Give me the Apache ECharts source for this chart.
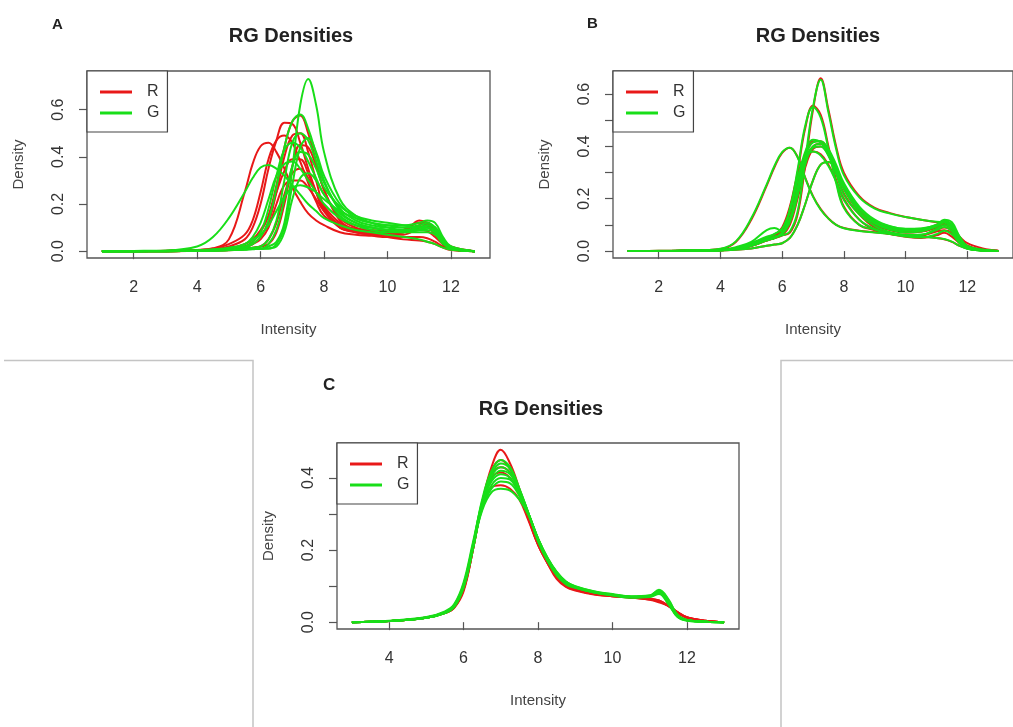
<!DOCTYPE html>
<html>
<head>
<meta charset="utf-8">
<script src="https://cdn.jsdelivr.net/npm/echarts@6.0.0/dist/echarts.min.js"></script>
<style>
html,body{margin:0;padding:0;background:#fff;}
#main{width:1013px;height:727px;}
</style>
</head>
<body>
<div id="main"></div>
<script>
'use strict';

// intensity grids (x) for each panel
var intensityA = [1,2,3,4,4.5, 5,5.5,5.75,6,6.25, 6.5,6.75,7,7.25,7.5, 7.75,8,8.5,9,9.5, 10,10.5,11,11.25,11.5, 11.75,12,12.75];
var intensityB = [1,2,3,4,4.5, 5,5.5,5.75,6,6.25, 6.5,6.75,7,7.25,7.5, 7.75,8,8.5,9,9.5, 10,10.5,11,11.25,11.5, 11.75,12,12.5,13];
var intensityC = [3,4,5,5.5,5.75, 6,6.25,6.5,6.75,7, 7.25,7.5,7.75,8,8.25, 8.5,8.75,9,9.5,10, 10.5,11,11.25,11.5,11.75, 12,12.5,13];

// panel A - raw densities
var densA_R = [
	[0,0,.002,.005,.012, .05,.25,.37,.445,.46, .42,.35,.27,.21,.16, .13,.11,.08,.07,.065, .06,.06,.06,.055,.04, .02,.008,0],
	[0,0,.001,.004,.008, .02,.05,.1,.2,.35, .47,.545,.54,.46,.35, .25,.17,.11,.09,.08, .075,.08,.09,.085,.06, .03,.01,0],
	[0,0,.001,.004,.01, .03,.07,.13,.25,.39, .47,.49,.46,.38,.29, .21,.15,.11,.095,.09, .085,.09,.12,.11,.07, .03,.01,0],
	[0,0,0,.002,.005, .01,.02,.04,.08,.15, .28,.44,.55,.575,.5, .38,.26,.14,.1,.085, .08,.08,.1,.1,.07, .03,.01,0],
	[0,0,0,.002,.004, .006,.015,.03,.06,.12, .25,.4,.49,.5,.42, .3,.19,.1,.085,.08, .075,.08,.13,.12,.08, .03,.008,0],
	[0,0,.001,.003,.006, .012,.03,.05,.09,.15, .25,.34,.39,.39,.33, .25,.18,.11,.08,.07, .06,.05,.045,.04,.03, .015,.005,0],
	[0,0,0,.001,.003, .005,.01,.015,.02,.05, .12,.24,.33,.35,.31, .25,.19,.12,.09,.08, .075,.08,.11,.12,.09, .04,.012,0],
	[0,0,0,.002,.004, .008,.02,.03,.05,.1, .2,.28,.3,.3,.27, .22,.17,.1,.08,.07, .07,.09,.12,.12,.08, .03,.01,0],
	[0,0,0,.001,.002, .004,.008,.012,.02,.03, .08,.2,.36,.45,.44, .36,.26,.13,.09,.075, .07,.07,.1,.11,.1, .05,.02,0]
];
var densA_G = [
	[0,0,.001,.002,.004, .005,.008,.01,.01,.02, .04,.12,.35,.62,.73, .62,.42,.22,.15,.12, .1,.09,.09,.09,.08, .04,.015,0],
	[0,.001,.003,.02,.06, .14,.25,.31,.355,.365, .35,.32,.28,.24,.2, .17,.14,.11,.09,.08, .07,.06,.05,.04,.03, .015,.006,0],
	[0,0,0,.002,.004, .005,.015,.03,.06,.13, .27,.44,.55,.58,.52, .41,.3,.17,.12,.1, .09,.085,.09,.1,.08, .04,.012,0],
	[0,0,0,.001,.003, .005,.01,.015,.02,.05, .13,.3,.46,.5,.47, .38,.29,.18,.13,.11, .1,.1,.11,.12,.1, .05,.015,0],
	[0,0,.001,.003,.006, .01,.02,.04,.08,.18, .32,.43,.46,.44,.38, .31,.24,.16,.12,.1, .09,.09,.1,.11,.1, .05,.015,0],
	[0,0,0,.001,.003, .005,.008,.01,.01,.012, .02,.08,.22,.31,.33, .3,.24,.15,.11,.09, .08,.08,.09,.1,.09, .04,.012,0],
	[0,0,.001,.003,.006, .01,.03,.05,.07,.11, .17,.23,.27,.28,.27, .25,.22,.17,.14,.12, .11,.1,.1,.11,.1, .05,.02,0],
	[0,0,0,.001,.003, .005,.008,.01,.01,.03, .09,.22,.36,.42,.41, .35,.27,.19,.15,.13, .12,.11,.1,.1,.08, .04,.01,0],
	[0,0,.001,.003,.008, .015,.03,.06,.12,.22, .32,.37,.38,.35,.3, .25,.2,.14,.11,.1, .09,.08,.08,.08,.07, .03,.01,0],
	[0,0,0,.001,.002, .004,.006,.008,.01,.01, .03,.1,.28,.44,.48, .42,.32,.2,.14,.12, .11,.11,.12,.13,.12, .06,.02,0]
];

// panel B - within-array normalised
var densB_R = [
	[0,.001,.002,.008,.035, .12,.25,.32,.375,.395, .36,.28,.21,.16,.125, .1,.088,.078,.072,.066, .06,.055,.05,.045,.035, .02,.01,.003,0],
	[0,0,.001,.003,.008, .02,.04,.05,.06,.07, .14,.33,.54,.66,.54, .4,.3,.21,.165,.145, .13,.12,.11,.105,.085, .055,.03,.01,.002],
	[0,0,.001,.004,.01, .02,.05,.06,.08,.15, .3,.47,.555,.52,.4, .27,.17,.1,.08,.065, .055,.05,.06,.07,.055, .03,.012,.003,0],
	[0,0,.001,.004,.01, .03,.05,.06,.08,.14, .26,.37,.42,.42,.37, .3,.22,.14,.09,.07, .06,.06,.08,.09,.08, .04,.015,.003,0],
	[0,0,.001,.003,.008, .02,.04,.05,.06,.1, .2,.32,.39,.4,.37, .31,.24,.15,.1,.08, .07,.075,.09,.1,.09, .05,.02,.004,0],
	[0,0,.001,.004,.012, .03,.05,.06,.09,.17, .29,.36,.38,.37,.33, .27,.2,.12,.08,.065, .06,.06,.075,.08,.07, .035,.012,.003,0],
	[0,0,.001,.002,.005, .01,.02,.025,.03,.05, .1,.18,.27,.33,.34, .31,.25,.16,.1,.085, .075,.075,.09,.1,.09, .05,.02,.005,0],
	[0,0,.001,.003,.01, .03,.045,.05,.07,.12, .23,.35,.4,.41,.38, .32,.25,.16,.11,.09, .08,.08,.1,.115,.1, .05,.02,.004,0]
];
var densB_G = [
	[0,.001,.002,.009,.037, .125,.255,.325,.378,.395, .358,.278,.208,.158,.124, .1,.087,.077,.071,.065, .06,.055,.05,.046,.036, .02,.009,.002,0],
	[0,0,.001,.003,.008, .02,.04,.05,.06,.075, .15,.35,.55,.655,.53, .39,.29,.205,.162,.143, .13,.12,.112,.11,.09, .05,.02,.006,0],
	[0,0,.001,.004,.01, .02,.05,.065,.085,.16, .31,.48,.55,.51,.39, .26,.165,.1,.082,.066, .056,.052,.064,.078,.064, .03,.01,.002,0],
	[0,0,.001,.004,.011, .03,.055,.065,.085,.15, .27,.38,.425,.415,.365, .295,.215,.14,.095,.072, .062,.062,.085,.1,.085, .04,.012,.002,0],
	[0,0,.001,.003,.008, .02,.045,.055,.065,.11, .21,.33,.395,.4,.365, .305,.235,.15,.105,.082, .072,.075,.095,.11,.095, .05,.015,.003,0],
	[0,0,.001,.004,.015, .035,.08,.088,.075,.16, .28,.355,.38,.365,.325, .265,.195,.12,.085,.066, .06,.062,.08,.092,.075, .035,.01,.002,0],
	[0,0,.001,.002,.005, .01,.02,.025,.03,.05, .1,.18,.27,.33,.34, .31,.25,.165,.11,.088, .078,.08,.095,.11,.1, .055,.018,.003,0],
	[0,0,.001,.003,.01, .03,.045,.05,.07,.12, .23,.35,.4,.41,.38, .32,.25,.16,.115,.094, .084,.086,.1,.12,.11, .055,.018,.003,0],
	[0,0,.001,.003,.009, .025,.045,.05,.07,.12, .24,.36,.415,.42,.39, .33,.26,.17,.12,.095, .085,.085,.1,.115,.1, .05,.015,.003,0]
];

// panel C - between-array normalised
var densC_R = [
	[0,.003,.012,.025,.04, .085,.2,.33,.43,.478, .44,.37,.29,.215,.165, .125,.1,.09,.078,.072, .068,.062,.055,.045,.028, .014,.004,0],
	[0,.003,.012,.026,.042, .09,.2,.33,.42,.45, .425,.36,.285,.215,.165, .125,.1,.09,.078,.072, .068,.063,.058,.045,.027, .013,.004,0],
	[0,.003,.013,.028,.045, .095,.21,.32,.375,.38, .37,.34,.28,.215,.165, .12,.098,.088,.077,.072, .068,.064,.058,.046,.028, .014,.004,0],
	[0,.003,.012,.025,.04, .09,.2,.33,.41,.43, .415,.36,.29,.22,.17, .13,.105,.093,.08,.073, .069,.065,.06,.046,.026, .012,.003,0],
	[0,.003,.013,.027,.043, .095,.21,.33,.4,.415, .4,.355,.29,.22,.17, .13,.105,.094,.081,.074, .07,.066,.06,.045,.026, .012,.003,0]
];
var densC_G = [
	[0,.003,.012,.026,.045, .1,.21,.34,.42,.45, .43,.37,.3,.225,.17, .13,.105,.095,.082,.074, .068,.07,.078,.05,.015, .005,.001,0],
	[0,.003,.012,.025,.042, .095,.2,.33,.41,.44, .425,.37,.3,.225,.172, .132,.108,.096,.083,.075, .069,.072,.082,.055,.016, .005,.001,0],
	[0,.003,.013,.028,.048, .105,.215,.335,.405,.43, .415,.365,.3,.23,.175, .135,.11,.097,.083,.075, .07,.073,.085,.06,.018, .006,.001,0],
	[0,.003,.012,.026,.044, .1,.205,.325,.395,.42, .41,.365,.3,.232,.178, .138,.112,.098,.084,.076, .07,.071,.08,.052,.014, .004,.001,0],
	[0,.004,.014,.03,.05, .11,.22,.33,.39,.41, .4,.36,.3,.232,.178, .138,.112,.099,.085,.077, .071,.074,.088,.062,.02, .006,.001,0],
	[0,.003,.012,.025,.043, .098,.205,.32,.38,.4, .395,.355,.298,.23,.176, .136,.11,.097,.084,.076, .07,.072,.084,.058,.017, .005,.001,0],
	[0,.003,.013,.027,.046, .102,.21,.31,.36,.37, .365,.34,.295,.232,.18, .14,.113,.1,.086,.078, .072,.074,.09,.064,.02, .006,.001,0],
	[0,.003,.012,.026,.045, .1,.205,.315,.37,.39, .385,.35,.298,.232,.178, .138,.112,.098,.084,.076, .07,.072,.083,.055,.016, .005,.001,0]
];

// tick positions and labels
var xTicksAB = [2,4,6,8,10,12];
var xTicksC = [4,6,8,10,12];
var yTicksA = [0,0.2,0.4,0.6];
var yTicksB = [0,0.1,0.2,0.3,0.4,0.5,0.6];
var yLabelsB = [0,0.2,0.4,0.6];
var yTicksC = [0,0.1,0.2,0.3,0.4];
var yLabelsC = [0,0.2,0.4];
var legendNames = ['R','G'];
var panelLetters = ['A','B','C'];

var RED = '#e81818';
var GREEN = '#18de18';
var FONT = '"Liberation Sans", Arial, sans-serif';

var panels = [
	{ left:87, top:71, width:403, height:187, xMin:0.53, xMax:13.23, yMin:-0.029, yMax:0.764,
	  xTicks:xTicksAB, yTicks:yTicksA, yLabels:yTicksA, xs:intensityA, red:densA_R, green:densA_G,
	  titleX:286, titleY:21, letterX:47, letterY:12, letterSize:15 },
	{ left:613, top:71, width:402, height:187, xMin:0.52, xMax:13.48, yMin:-0.0265, yMax:0.688,
	  xTicks:xTicksAB, yTicks:yTicksB, yLabels:yLabelsB, xs:intensityB, red:densB_R, green:densB_G,
	  titleX:813, titleY:21, letterX:582, letterY:11, letterSize:15 },
	{ left:337, top:443, width:402, height:186, xMin:2.6, xMax:13.4, yMin:-0.019, yMax:0.497,
	  xTicks:xTicksC, yTicks:yTicksC, yLabels:yLabelsC, xs:intensityC, red:densC_R, green:densC_G,
	  titleX:536, titleY:394, letterX:318, letterY:372, letterSize:17 }
];

var grids = [], xAxes = [], yAxes = [], legends = [], titles = [], series = [];

panels.forEach(function (p, i) {
	grids.push({ left:p.left, top:p.top, width:p.width, height:p.height, show:true,
		borderColor:'#555', borderWidth:1.3, backgroundColor:'transparent' });

	xAxes.push({ type:'value', gridIndex:i, min:p.xMin, max:p.xMax,
		name:'Intensity', nameLocation:'middle', nameGap:64,
		nameTextStyle:{ fontSize:15, color:'#444', fontFamily:FONT },
		axisLine:{ show:false }, splitLine:{ show:false },
		axisTick:{ show:true, customValues:p.xTicks, length:8, lineStyle:{ color:'#555', width:1.2 } },
		axisLabel:{ customValues:p.xTicks, margin:22, fontSize:16, color:'#333', fontFamily:FONT,
			formatter:function (v) { return String(v); } } });

	yAxes.push({ type:'value', gridIndex:i, min:p.yMin, max:p.yMax,
		name:'Density', nameLocation:'middle', nameGap:61,
		nameTextStyle:{ fontSize:15, color:'#444', fontFamily:FONT },
		axisLine:{ show:false }, splitLine:{ show:false },
		axisTick:{ show:true, customValues:p.yTicks, length:8, lineStyle:{ color:'#555', width:1.2 } },
		axisLabel:{ customValues:p.yLabels, margin:20, rotate:90, fontSize:16, color:'#333', fontFamily:FONT,
			formatter:function (v) { return Number(v).toFixed(1); } } });

	legends.push({ left:p.left, top:p.top, orient:'vertical', data:legendNames, icon:'rect',
		itemWidth:32, itemHeight:3, itemGap:3, padding:[12,8,10,13],
		borderColor:'#444', borderWidth:1.2, backgroundColor:'#fff', selectedMode:false,
		textStyle:{ fontSize:16, lineHeight:18, color:'#333', fontFamily:FONT, padding:[0,0,0,10] } });

	titles.push({ text:'RG Densities', left:p.titleX, top:p.titleY, textAlign:'center',
		textStyle:{ fontSize:20, fontWeight:'bold', color:'#222', fontFamily:FONT } });
	titles.push({ text:panelLetters[i], left:p.letterX, top:p.letterY,
		textStyle:{ fontSize:p.letterSize, fontWeight:'bold', color:'#222', fontFamily:FONT } });

	p.red.forEach(function (ys) {
		series.push({ name:'R', type:'line', xAxisIndex:i, yAxisIndex:i, z:2, silent:true,
			showSymbol:false, smooth:0.4,
			lineStyle:{ width:2, color:RED }, itemStyle:{ color:RED },
			data:p.xs.map(function (x, k) { return [x, ys[k]]; }) });
	});
	p.green.forEach(function (ys) {
		series.push({ name:'G', type:'line', xAxisIndex:i, yAxisIndex:i, z:3, silent:true,
			showSymbol:false, smooth:0.4,
			lineStyle:{ width:2, color:GREEN }, itemStyle:{ color:GREEN },
			data:p.xs.map(function (x, k) { return [x, ys[k]]; }) });
	});
});

var chart = echarts.init(document.getElementById('main'), null, { renderer:'canvas' });
chart.setOption({
	animation:false,
	backgroundColor:'#fff',
	title:titles,
	grid:grids,
	xAxis:xAxes,
	yAxis:yAxes,
	legend:legends,
	series:series,
	graphic:[
		{ type:'polyline', silent:true, shape:{ points:[[4,360.5],[253,360.5],[253,727]] },
		  style:{ stroke:'#c4c4c4', lineWidth:1.5, fill:null } },
		{ type:'polyline', silent:true, shape:{ points:[[1013,360.5],[781,360.5],[781,727]] },
		  style:{ stroke:'#c4c4c4', lineWidth:1.5, fill:null } }
	]
});
</script>
</body>
</html>
